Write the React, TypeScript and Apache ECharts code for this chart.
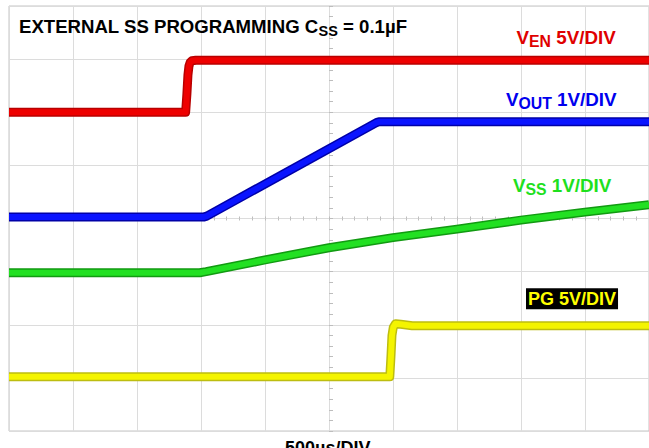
import { useEffect, useRef } from "react";
import * as echarts from "echarts";

// time axis in µs (500 µs/DIV, 10 divisions), vertical axis in divisions (8)
const xTickInterval = 500;
const xMax = 5000;
const yTickInterval = 1;
const yMax = 8;

// V_EN (5V/DIV)
const enT = [0, 1380, 1390, 1398, 1406, 1416, 1430, 1460, 5000];
const enV = [6.0, 6.0, 6.35, 6.7, 6.87, 6.94, 6.97, 6.98, 6.98];
// V_OUT (1V/DIV)
const outT = [0, 1525, 1545, 2870, 2890, 5000];
const outV = [4.03, 4.03, 4.045, 5.805, 5.82, 5.82];
// V_SS (1V/DIV)
const ssT = [0, 1490, 1540, 2000, 2500, 3000, 3500, 4000, 4500, 5000];
const ssV = [2.98, 2.98, 3.0, 3.22, 3.45, 3.64, 3.8, 3.97, 4.12, 4.26];
// PG (5V/DIV)
const pgT = [0, 2975, 2984, 2992, 3002, 3020, 3060, 3150, 5000];
const pgV = [1.02, 1.02, 1.4, 1.8, 1.95, 2.02, 2.01, 1.98, 1.98];

const titleMain = "EXTERNAL SS PROGRAMMING C";
const titleSub = "SS";
const titleTail = " = 0.1µF";
const enLabel = ["V", "EN", " 5V/DIV"];
const outLabel = ["V", "OUT", " 1V/DIV"];
const ssLabel = ["V", "SS", " 1V/DIV"];
const pgLabel = "PG 5V/DIV";
const timeLabel = "500µs/DIV";

const FONT = "'Liberation Sans', Arial, sans-serif";

function zip(t: number[], v: number[]) {
  return t.map((x, i) => [x, v[i]]);
}

function trace(name: string, t: number[], v: number[], core: string, edge: string) {
  const data = zip(t, v);
  return [
    {
      name: name + "-edge",
      type: "line",
      data,
      showSymbol: false,
      silent: true,
      lineStyle: { color: edge, width: 9, join: "round" },
      z: 2,
    },
    {
      name,
      type: "line",
      data,
      showSymbol: false,
      silent: true,
      lineStyle: { color: core, width: 6, join: "round" },
      z: 3,
    },
  ];
}

function richLabel(parts: string[], color: string, x: number, y: number) {
  return {
    type: "text",
    x,
    y,
    style: {
      text: `{b|${parts[0]}}{s|${parts[1]}}{b|${parts[2]}}`,
      verticalAlign: "top",
      rich: {
        b: { fontSize: 18.8, fontWeight: "bold", fontFamily: FONT, lineHeight: 24, fill: color },
        s: { fontSize: 15.8, fontWeight: "bold", fontFamily: FONT, lineHeight: 15, verticalAlign: "bottom", fill: color },
      },
    },
    z: 10,
  };
}

export default function App() {
  const ref = useRef<HTMLDivElement>(null);
  useEffect(() => {
    if (!ref.current) return;
    const chart = echarts.init(ref.current, null, { renderer: "svg" });
    const tickAxisCommon = {
      show: true,
      axisLine: { show: false },
      axisLabel: { show: false },
      splitLine: { show: false },
    };
    chart.setOption({
      animation: false,
      backgroundColor: "#ffffff",
      grid: {
        left: 9,
        right: -4,
        top: 6,
        bottom: 17,
        show: true,
        borderColor: "#c4c4c4",
        borderWidth: 1,
        backgroundColor: "transparent",
      },
      xAxis: [
        {
          type: "value",
          min: 0,
          max: xMax,
          interval: xTickInterval,
          axisLine: { show: false },
          axisTick: { show: false },
          axisLabel: { show: false },
          splitLine: { show: true, lineStyle: { color: "#dcdcdc", width: 1 } },
        },
        {
          ...tickAxisCommon,
          type: "value",
          min: 0,
          max: xMax,
          interval: xTickInterval,
          position: "bottom",
          offset: -212.5,
          axisTick: { show: true, inside: false, length: 2, lineStyle: { color: "#bdbdbd" } },
          minorTick: { show: true, splitNumber: 5, length: 2, lineStyle: { color: "#bdbdbd" } },
        },
        {
          ...tickAxisCommon,
          type: "value",
          min: 0,
          max: xMax,
          interval: xTickInterval,
          position: "bottom",
          offset: -212.5,
          axisTick: { show: true, inside: true, length: 2, lineStyle: { color: "#bdbdbd" } },
          minorTick: { show: true, splitNumber: 5, length: 2, lineStyle: { color: "#bdbdbd" } },
        },
      ],
      yAxis: [
        {
          type: "value",
          min: 0,
          max: yMax,
          interval: yTickInterval,
          axisLine: { show: false },
          axisTick: { show: false },
          axisLabel: { show: false },
          splitLine: { show: true, lineStyle: { color: "#dcdcdc", width: 1 } },
        },
        {
          ...tickAxisCommon,
          type: "value",
          min: 0,
          max: yMax,
          interval: yTickInterval,
          position: "left",
          offset: -322,
          axisTick: { show: true, inside: false, length: 2, lineStyle: { color: "#bdbdbd" } },
          minorTick: { show: true, splitNumber: 5, length: 2, lineStyle: { color: "#bdbdbd" } },
        },
        {
          ...tickAxisCommon,
          type: "value",
          min: 0,
          max: yMax,
          interval: yTickInterval,
          position: "left",
          offset: -322,
          axisTick: { show: true, inside: true, length: 2, lineStyle: { color: "#bdbdbd" } },
          minorTick: { show: true, splitNumber: 5, length: 2, lineStyle: { color: "#bdbdbd" } },
        },
      ],
      series: [
        ...trace("PG", pgT, pgV, "#f4f400", "#bdbd10"),
        ...trace("VSS", ssT, ssV, "#22e022", "#129a12"),
        ...trace("VOUT", outT, outV, "#0a14ff", "#0000a8"),
        ...trace("VEN", enT, enV, "#ee0000", "#b80000"),
      ],
      graphic: [
        {
          type: "text",
          x: 19,
          y: 14.5,
          style: {
            text: `{b|${titleMain}}{s|${titleSub}}{b|${titleTail}}`,
            verticalAlign: "top",
            rich: {
              b: { fontSize: 18.6, fontWeight: "bold", fontFamily: FONT, lineHeight: 24, fill: "#000" },
              s: { fontSize: 14.5, fontWeight: "bold", fontFamily: FONT, lineHeight: 14, verticalAlign: "bottom", fill: "#000" },
            },
          },
          z: 10,
        },
        richLabel(enLabel, "#e00000", 516.5, 25.8),
        richLabel(outLabel, "#0000ee", 506, 87.5),
        richLabel(ssLabel, "#1ee01e", 513, 173.2),
        {
          type: "text",
          x: 526,
          y: 288.3,
          style: {
            text: pgLabel,
            fontSize: 18,
            fontWeight: "bold",
            fontFamily: FONT,
            lineHeight: 21,
            fill: "#ffff00",
            backgroundColor: "#000",
            padding: [0, 2, 0, 2],
            verticalAlign: "top",
          },
          z: 10,
        },
        {
          type: "text",
          x: 285,
          y: 439.4,
          style: {
            text: timeLabel,
            fontSize: 18,
            fontWeight: "bold",
            fontFamily: FONT,
            lineHeight: 18,
            fill: "#000",
            verticalAlign: "top",
          },
          z: 10,
        },
      ],
    });
    return () => chart.dispose();
  }, []);
  return (
    <div
      ref={ref}
      style={{ position: "fixed", left: 0, top: 0, width: 649, height: 448, background: "#fff" }}
    />
  );
}
